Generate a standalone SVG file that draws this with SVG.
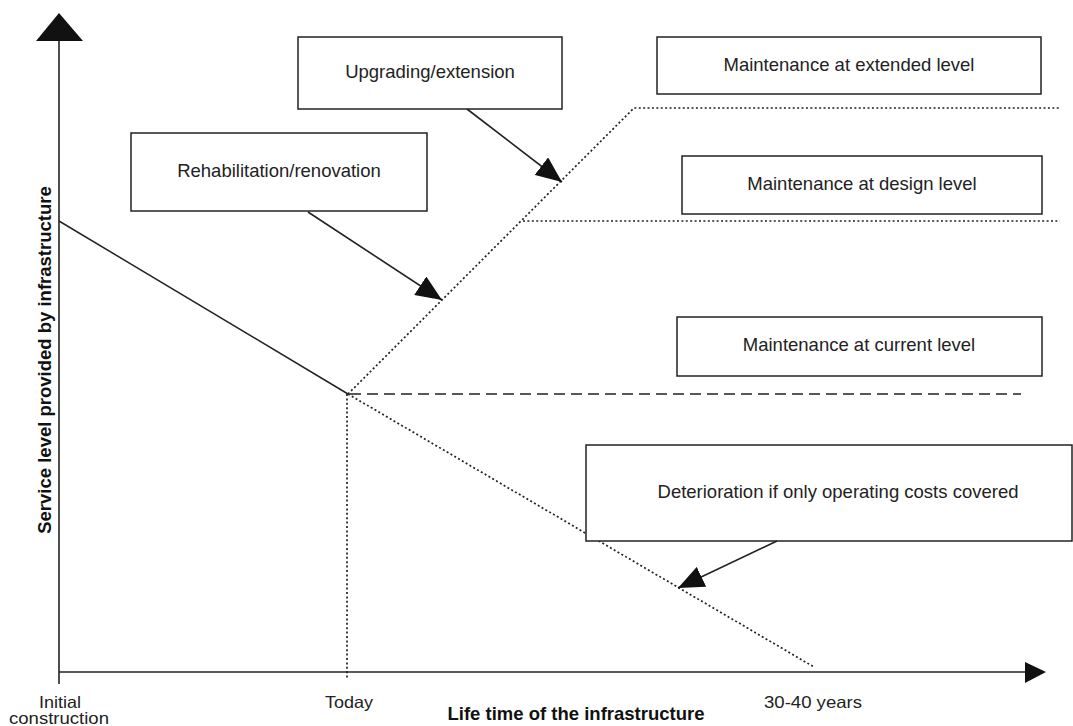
<svg xmlns="http://www.w3.org/2000/svg" width="1073" height="726" viewBox="0 0 1073 726">
<style>
  .box{fill:#fff;stroke:#222;stroke-width:1.5}
  .lbl{font-family:"Liberation Sans",Arial,sans-serif;font-size:18.5px;fill:#222;text-anchor:middle}
  .sm{font-size:16.5px}
  .bold{font-weight:bold;fill:#111}
  .axis{stroke:#222;stroke-width:1.6;fill:none}
  .solid{stroke:#222;stroke-width:1.5;fill:none}
  .dot{stroke:#222;stroke-width:1.7;stroke-dasharray:2 2.4;fill:none}
  .dash{stroke:#222;stroke-width:1.6;stroke-dasharray:11 6;fill:none}
  .arr{stroke:#222;stroke-width:1.6;fill:none;marker-end:url(#ah)}
</style>
<defs>
  <marker id="ah" markerUnits="userSpaceOnUse" viewBox="0 0 26 22" refX="26" refY="11" markerWidth="26" markerHeight="22" orient="auto">
    <path d="M0,0 L26,11 L0,22 z" fill="#111"/>
  </marker>
</defs>
<rect width="1073" height="726" fill="#fff"/>

<g id="axes">
  <line class="axis" x1="59" y1="38" x2="59" y2="684"/>
  <polygon points="59,13 36,41 83,41" fill="#111"/>
  <line class="axis" x1="59" y1="672" x2="1028" y2="672"/>
  <polygon points="1046,672 1025,662 1025,683" fill="#111"/>
  <text class="lbl bold" transform="translate(51,360) rotate(-90)">Service level provided by infrastructure</text>
  <text class="lbl bold" x="576" y="720">Life time of the infrastructure</text>
  <text class="lbl sm" x="60" y="708" textLength="42" lengthAdjust="spacingAndGlyphs">Initial</text>
  <text class="lbl sm" x="59" y="724" textLength="100" lengthAdjust="spacingAndGlyphs">construction</text>
  <text class="lbl sm" x="349" y="708" textLength="48" lengthAdjust="spacingAndGlyphs">Today</text>
  <text class="lbl sm" x="813" y="708" textLength="98" lengthAdjust="spacingAndGlyphs">30-40 years</text>
</g>

<g id="curves">
  <line class="solid" x1="59" y1="221" x2="348" y2="394"/>
  <line class="dot" x1="347" y1="394" x2="347" y2="680"/>
  <polyline class="dot" points="348,394 634,108 1060,108"/>
  <line class="dot" x1="523" y1="221" x2="1060" y2="221"/>
  <line class="dash" x1="350" y1="394" x2="1021" y2="394"/>
  <line class="dot" x1="348" y1="394" x2="814" y2="667"/>
</g>

<g id="node-upgrading">
  <rect class="box" x="298" y="37" width="264" height="72"/>
  <text class="lbl" x="430" y="78">Upgrading/extension</text>
</g>
<g id="node-rehab">
  <rect class="box" x="131" y="133" width="296" height="78"/>
  <text class="lbl" x="279" y="177">Rehabilitation/renovation</text>
</g>
<g id="node-extended">
  <rect class="box" x="657" y="37" width="384" height="57"/>
  <text class="lbl" x="849" y="71">Maintenance at extended level</text>
</g>
<g id="node-design">
  <rect class="box" x="682" y="156" width="360" height="58"/>
  <text class="lbl" x="862" y="190">Maintenance at design level</text>
</g>
<g id="node-current">
  <rect class="box" x="677" y="317" width="365" height="59"/>
  <text class="lbl" x="859" y="351">Maintenance at current level</text>
</g>
<g id="node-deterioration">
  <rect class="box" x="586" y="445" width="486" height="96"/>
  <text class="lbl" x="838" y="498">Deterioration if only operating costs covered</text>
</g>

<g id="connectors">
  <line class="arr" x1="467" y1="109" x2="562" y2="182"/>
  <line class="arr" x1="308" y1="212" x2="442" y2="300"/>
  <line class="arr" x1="777" y1="541" x2="678" y2="588"/>
</g>
</svg>
